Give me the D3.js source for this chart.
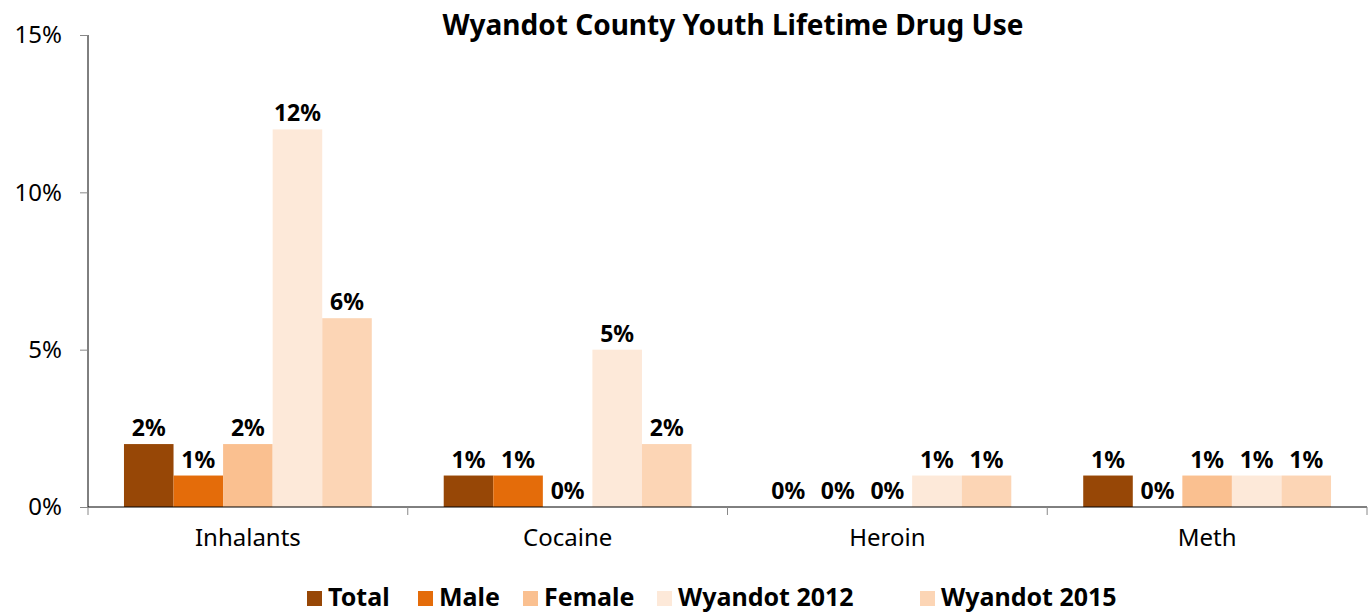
<!DOCTYPE html>
<html>
<head>
<meta charset="utf-8">
<script src="https://cdn.jsdelivr.net/npm/d3@7"></script>
<style>
  body { margin: 0; background: #fff; }
  text { font-family: "Noto Sans", "Open Sans", sans-serif; }
</style>
</head>
<body>
<div id="chart"></div>
<script>
// data
var categories = ["Inhalants", "Cocaine", "Heroin", "Meth"];
var seriesNames = ["Total", "Male", "Female", "Wyandot 2012", "Wyandot 2015"];
var seriesColors = ["#974706", "#E46C0A", "#FAC090", "#FDE9D9", "#FCD5B5"];
var total = [2, 1, 0, 1];
var male = [1, 1, 0, 0];
var female = [2, 0, 0, 1];
var wyandot2012 = [12, 5, 1, 1];
var wyandot2015 = [6, 2, 1, 1];
var yTicks = [0, 5, 10, 15];

var series = [total, male, female, wyandot2012, wyandot2015];

var W = 1371, H = 615;
var margin = { top: 35, right: 4, bottom: 108, left: 88 },
    width = W - margin.left - margin.right,
    height = H - margin.top - margin.bottom;

var svg = d3.select("#chart")
    .append("svg")
    .attr("width", W)
    .attr("height", H);

// title
svg.append("text")
    .attr("x", 733)
    .attr("y", 35)
    .attr("text-anchor", "middle")
    .style("font-size", "28px")
    .style("font-weight", "bold")
    .text("Wyandot County Youth Lifetime Drug Use");

var g = svg.append("g")
    .attr("transform", "translate(" + margin.left + "," + margin.top + ")");

// scales
var x0 = d3.scaleBand()
    .domain(categories)
    .range([0, width]);

var bw = x0.bandwidth();
var x1 = d3.scaleBand()
    .domain(d3.range(seriesNames.length))
    .range([bw * 0.1125, bw * 0.8875]);

var y = d3.scaleLinear()
    .domain([0, 15])
    .range([height, 0]);

// y axis
var yAxis = g.append("g")
    .call(d3.axisLeft(y).tickValues(yTicks).tickFormat(function (d) { return d + "%"; }).tickSize(8).tickPadding(18));
yAxis.select(".domain").attr("stroke", "#000").attr("d", "M0," + height + "V0");
yAxis.selectAll(".tick line").attr("stroke", "#888");
yAxis.selectAll("text")
    .style("font-size", "24px")
    .attr("fill", "#000")
    .style("font-family", "'Noto Sans', sans-serif");

// bars
var groups = g.selectAll(".cat")
    .data(categories)
    .enter()
    .append("g")
    .attr("transform", function (d) { return "translate(" + x0(d) + ",0)"; });

groups.selectAll("rect")
    .data(function (d, i) { return series.map(function (s, j) { return { k: j, v: s[i] }; }); })
    .enter()
    .append("rect")
    .attr("x", function (d) { return x1(d.k); })
    .attr("width", x1.bandwidth())
    .attr("y", function (d) { return y(d.v); })
    .attr("height", function (d) { return height - y(d.v); })
    .attr("fill", function (d) { return seriesColors[d.k]; });

groups.selectAll(".lbl")
    .data(function (d, i) { return series.map(function (s, j) { return { k: j, v: s[i] }; }); })
    .enter()
    .append("text")
    .attr("class", "lbl")
    .attr("x", function (d) { return x1(d.k) + x1.bandwidth() / 2; })
    .attr("y", function (d) { return y(d.v) - 8; })
    .attr("text-anchor", "middle")
    .style("font-size", "23px")
    .style("font-weight", "bold")
    .text(function (d) { return d.v + "%"; });

// x axis
var xAxis = g.append("g")
    .attr("transform", "translate(0," + height + ")")
    .call(d3.axisBottom(x0).tickSize(0).tickPadding(22));
xAxis.select(".domain").attr("stroke", "#000").attr("d", "M0,0H" + width);
xAxis.selectAll("text")
    .style("font-size", "24px")
    .attr("fill", "#000")
    .style("font-family", "'Noto Sans', sans-serif");

// category separator ticks
g.append("g")
    .selectAll("line")
    .data(d3.range(categories.length + 1))
    .enter()
    .append("line")
    .attr("x1", function (d) { return d * bw; })
    .attr("x2", function (d) { return d * bw; })
    .attr("y1", height)
    .attr("y2", height + 8)
    .attr("stroke", "#888");

// legend
var legendX = [307, 418, 523, 657, 920];
var legend = svg.append("g");
seriesNames.forEach(function (name, i) {
    legend.append("rect")
        .attr("x", legendX[i])
        .attr("y", 591)
        .attr("width", 15)
        .attr("height", 15)
        .attr("fill", seriesColors[i]);
    legend.append("text")
        .attr("x", legendX[i] + 21)
        .attr("y", 606)
        .style("font-size", "25px")
        .style("font-weight", "bold")
        .text(name);
});
</script>
</body>
</html>
